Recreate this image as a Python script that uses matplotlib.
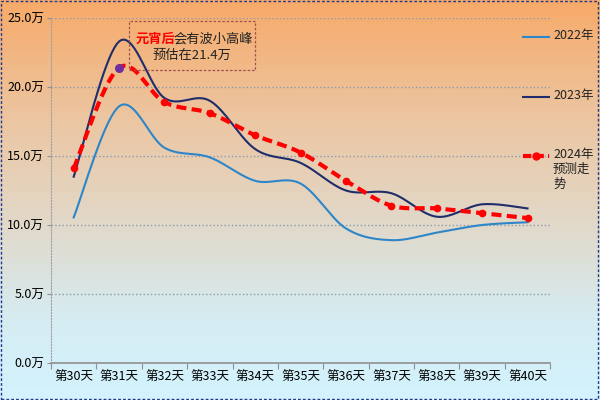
import numpy as np
import matplotlib.pyplot as plt
from matplotlib.lines import Line2D
from matplotlib.patches import Rectangle

plt.rcParams['font.family'] = ['Noto Sans CJK SC', 'DejaVu Sans']

days = ['第30天', '第31天', '第32天', '第33天', '第34天', '第35天',
        '第36天', '第37天', '第38天', '第39天', '第40天']
y2022 = [10.55, 18.6, 15.6, 14.9, 13.2, 13.0, 9.75, 8.9, 9.45, 10.0, 10.2]
y2023 = [13.5, 23.3, 19.2, 19.0, 15.5, 14.5, 12.5, 12.3, 10.6, 11.5, 11.2]
y2024 = [14.1, 21.4, 18.9, 18.1, 16.5, 15.25, 13.2, 11.4, 11.2, 10.85, 10.5]
yticks = [0, 5, 10, 15, 20, 25]


def smooth(x, y, n=20):
    # catmull-rom curve through the points, like excel's smoothed line
    x = np.asarray(x, float)
    y = np.asarray(y, float)
    px = np.concatenate([[x[0]], x, [x[-1]]])
    py = np.concatenate([[y[0]], y, [y[-1]]])
    xs, ys = [], []
    t = np.linspace(0, 1, n, endpoint=False)
    for i in range(1, len(px) - 2):
        for p, out in ((px, xs), (py, ys)):
            p0, p1, p2, p3 = p[i - 1], p[i], p[i + 1], p[i + 2]
            out.extend(0.5 * (2 * p1 + (-p0 + p2) * t
                              + (2 * p0 - 5 * p1 + 4 * p2 - p3) * t ** 2
                              + (-p0 + 3 * p1 - 3 * p2 + p3) * t ** 3))
    xs.append(x[-1])
    ys.append(y[-1])
    return np.array(xs), np.array(ys)


fig = plt.figure(figsize=(6, 4), dpi=100)

# background gradient over the whole figure (top -> bottom)
bg = fig.add_axes([0, 0, 1, 1], zorder=-10)
pos = [0, 0.3, 0.55, 0.8, 1]
stops = np.array([[247, 170, 105], [236, 198, 162], [226, 216, 200],
                  [214, 236, 242], [211, 243, 254]]) / 255
g = np.linspace(0, 1, 256)
grad = np.stack([np.interp(g, pos, stops[:, c]) for c in range(3)], axis=1)
bg.imshow(grad[:, None, :], aspect='auto', extent=[0, 1, 0, 1])
bg.axis('off')
fig.add_artist(Rectangle((0.002, 0.003), 0.995, 0.994, transform=fig.transFigure,
                         fill=False, ec='#1f3a8a', lw=1, ls=(0, (2, 1.5))))

ax = fig.add_axes([0.085, 0.0925, 0.832, 0.8625])
ax.patch.set_alpha(0)
x = np.arange(len(days))

sx, sy = smooth(x, y2022)
ax.plot(sx, sy, color='#2e86c8', lw=1.5)
sx, sy = smooth(x, y2023)
ax.plot(sx, sy, color='#1f2d6b', lw=1.5)
sx, sy = smooth(x, y2024)
ax.plot(sx, sy, color='red', lw=3, ls=(0, (2.4, 1.3)))
ax.plot(x, y2024, 'o', color='red', ms=4.5, ls='none')
ax.plot(x[1], y2024[1], 'o', color='#7030a0', ms=5.5)

ax.set_xlim(-0.5, len(days) - 0.5)
ax.set_ylim(0, 25)
ax.set_yticks(yticks)
ax.set_yticklabels(['%.1f万' % v for v in yticks], fontsize=9)
ax.set_xticks(np.arange(len(days) + 1) - 0.5)
ax.set_xticklabels([])
ax.set_xticks(x, minor=True)
ax.set_xticklabels(days, minor=True, fontsize=9)
ax.tick_params(axis='x', which='major', length=4, color='#909090')
ax.tick_params(axis='x', which='minor', length=0, pad=5)
ax.tick_params(axis='y', length=3, color='#909090', pad=2)
ax.grid(axis='y', color='#8a9bb0', ls=':', lw=1)
for s in ['top', 'right']:
    ax.spines[s].set_visible(False)
ax.spines['left'].set_color('#a0a0a0')
ax.spines['left'].set_linestyle(':')
ax.spines['bottom'].set_color('#909090')
ax.spines['bottom'].set_linewidth(1.2)

# annotation box
fig.add_artist(Rectangle((129 / 600, 1 - 70 / 400), 126 / 600, 49 / 400,
                         transform=fig.transFigure, fill=False,
                         ec='#a05050', lw=0.9, ls=(0, (2, 1.5))))
fig.text(136 / 600, 1 - 39 / 400, '元宵后', color='red', fontweight='bold',
         fontsize=9.5, va='center')
fig.text(173 / 600, 1 - 39 / 400, '会有波小高峰', color='#222222',
         fontsize=9.5, va='center')
fig.text(192 / 600, 1 - 55 / 400, '预估在21.4万', color='#222222',
         fontsize=9.5, va='center', ha='center')

# legend on the right
legend = [('2022年', dict(color='#2e86c8', lw=1.5), 37),
          ('2023年', dict(color='#1f2d6b', lw=1.5), 97),
          ('2024年\n预测走\n势', dict(color='red', lw=3, ls=(0, (2, 1))), 156)]
for label, kw, yp in legend:
    yf = 1 - yp / 400
    fig.add_artist(Line2D([523 / 600, 549 / 600], [yf, yf], **kw))
    fig.text(553 / 600, yf + 0.02, label, fontsize=9, va='top',
             linespacing=1.2, color='#222222')
fig.add_artist(Line2D([536 / 600], [1 - 156 / 400], marker='o', color='red', ms=5))

fig.savefig('out.png', dpi=100)
